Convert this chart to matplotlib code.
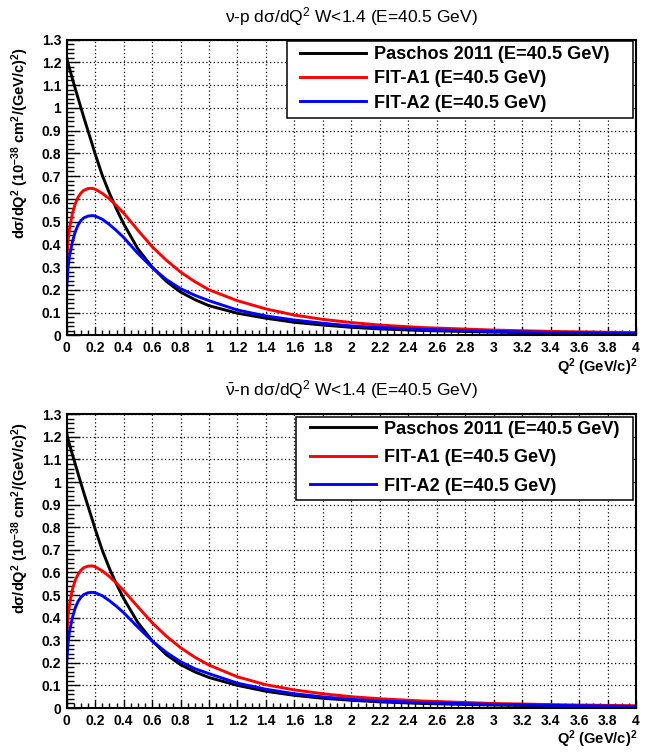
import matplotlib
matplotlib.use("Agg")
import matplotlib.pyplot as plt
from matplotlib.ticker import MultipleLocator, FuncFormatter
from matplotlib.patches import Rectangle

plt.rcParams['font.family'] = ['Liberation Sans', 'DejaVu Sans']
plt.rcParams['mathtext.fontset'] = 'custom'
plt.rcParams['mathtext.rm'] = 'Liberation Sans'
plt.rcParams['mathtext.it'] = 'Liberation Sans'
plt.rcParams['mathtext.bf'] = 'Liberation Sans:bold'

# ---------------- data ----------------
q2 = [0, 0.01, 0.02, 0.04, 0.06, 0.08, 0.10, 0.12, 0.15, 0.18, 0.20, 0.25, 0.30,
      0.35, 0.40, 0.50, 0.60, 0.70, 0.80, 0.90, 1.0, 1.2, 1.4, 1.6, 1.8, 2.0, 2.2,
      2.5, 3.0, 3.5, 4.0]

# nu-p panel
vp_paschos = [1.218, 1.195, 1.172, 1.128, 1.084, 1.042, 1.000, 0.958, 0.898, 0.838,
              0.797, 0.703, 0.625, 0.555, 0.490, 0.380, 0.300, 0.237, 0.190, 0.157,
              0.130, 0.097, 0.075, 0.057, 0.045, 0.035, 0.028, 0.021, 0.014, 0.009, 0.006]
vp_fitA1 = [0.330, 0.420, 0.470, 0.535, 0.578, 0.607, 0.625, 0.637, 0.645, 0.646,
            0.642, 0.624, 0.600, 0.570, 0.537, 0.462, 0.390, 0.330, 0.278, 0.236,
            0.200, 0.152, 0.116, 0.089, 0.070, 0.056, 0.045, 0.034, 0.023, 0.016, 0.012]
vp_fitA2 = [0.207, 0.300, 0.350, 0.410, 0.455, 0.485, 0.505, 0.516, 0.524, 0.526,
            0.524, 0.510, 0.487, 0.460, 0.430, 0.360, 0.298, 0.245, 0.205, 0.176,
            0.152, 0.111, 0.085, 0.067, 0.053, 0.041, 0.034, 0.026, 0.017, 0.012, 0.008]

# antinu-n panel
an_paschos = [1.215, 1.190, 1.165, 1.122, 1.080, 1.037, 0.995, 0.953, 0.893, 0.833,
              0.792, 0.698, 0.618, 0.548, 0.485, 0.378, 0.298, 0.236, 0.192, 0.160,
              0.135, 0.100, 0.074, 0.056, 0.043, 0.034, 0.027, 0.020, 0.013, 0.009, 0.006]
an_fitA1 = [0.325, 0.410, 0.460, 0.525, 0.565, 0.592, 0.610, 0.621, 0.628, 0.629,
            0.625, 0.607, 0.582, 0.552, 0.520, 0.448, 0.378, 0.318, 0.267, 0.225,
            0.190, 0.138, 0.103, 0.080, 0.063, 0.050, 0.041, 0.031, 0.020, 0.014, 0.010]
an_fitA2 = [0.200, 0.290, 0.340, 0.400, 0.443, 0.472, 0.490, 0.502, 0.510, 0.512,
            0.510, 0.497, 0.475, 0.450, 0.422, 0.358, 0.297, 0.246, 0.205, 0.174,
            0.152, 0.110, 0.083, 0.063, 0.049, 0.038, 0.031, 0.024, 0.016, 0.011, 0.007]

labels = ["Paschos 2011 (E=40.5 GeV)", "FIT-A1 (E=40.5 GeV)", "FIT-A2 (E=40.5 GeV)"]
colors = ["#000000", "#ff0000", "#0000ff"]
titles = [r"ν-p dσ/dQ$^{2}$ W<1.4 (E=40.5 GeV)",
          r"$\bar{\mathrm{\nu}}$-n dσ/dQ$^{2}$ W<1.4 (E=40.5 GeV)"]
ylabel = r"dσ/dQ$^{\mathbf{2}}$ (10$^{\mathbf{-38}}$ cm$^{\mathbf{2}}$/(GeV/c)$^{\mathbf{2}}$)"
xlabel = r"Q$^{\mathbf{2}}$ (GeV/c)$^{\mathbf{2}}$"

W, H = 652, 752
fig = plt.figure(figsize=(W / 100, H / 100), dpi=100)

panels = [
    dict(data=[vp_paschos, vp_fitA1, vp_fitA2], top=39.5, bot=335.3, title_y=17,
         xlab_y=367, leg=(287, 41, 633, 118), leg_start=300, labsp=0.40, ltop=46),
    dict(data=[an_paschos, an_fitA1, an_fitA2], top=414.3, bot=708, title_y=390,
         xlab_y=739, leg=(296, 417, 633, 500), leg_start=310, labsp=0.64, ltop=420.5),
]

x0px, x1px = 66.7, 636.0
fmt = FuncFormatter(lambda v, p: "%g" % round(v, 3))

for i, pn in enumerate(panels):
    ax = fig.add_axes([x0px / W, (H - pn['bot']) / H, (x1px - x0px) / W,
                       (pn['bot'] - pn['top']) / H])
    for ys, c, lab in zip(pn['data'], colors, labels):
        ax.plot(q2, ys, color=c, lw=2.1, label=lab, zorder=3, solid_joinstyle='round')
    ax.set_xlim(0, 4)
    ax.set_ylim(0, 1.3)
    ax.xaxis.set_major_locator(MultipleLocator(0.2))
    ax.xaxis.set_minor_locator(MultipleLocator(0.05))
    ax.yaxis.set_major_locator(MultipleLocator(0.1))
    ax.yaxis.set_minor_locator(MultipleLocator(0.02))
    ax.xaxis.set_major_formatter(fmt)
    ax.yaxis.set_major_formatter(fmt)
    ax.tick_params(axis='both', which='both', direction='in', top=False, right=False)
    ax.tick_params(axis='x', which='major', length=6, width=1.0, pad=4)
    ax.tick_params(axis='x', which='minor', length=3.5, width=1.0)
    ax.tick_params(axis='y', which='major', length=9, width=1.0, pad=4)
    ax.tick_params(axis='y', which='minor', length=5, width=1.0)
    for lab in ax.get_xticklabels() + ax.get_yticklabels():
        lab.set_fontweight('bold')
        lab.set_fontsize(10)
    ax.grid(True, which='major', color='black', linestyle=(0, (1, 2)), lw=0.9, zorder=1)
    ax.set_axisbelow(True)
    for s in ax.spines.values():
        s.set_linewidth(1.5)
        s.set_zorder(6)

    # legend frame
    lx0, ly0, lx1, ly1 = pn['leg']
    ax0 = (lx0 - x0px) / (x1px - x0px)
    ax1 = (lx1 - x0px) / (x1px - x0px)
    hgt = pn['bot'] - pn['top']
    ay_top = (pn['bot'] - ly0) / hgt
    ay_bot = (pn['bot'] - ly1) / hgt
    rect = Rectangle((ax0, ay_bot), ax1 - ax0, ay_top - ay_bot, transform=ax.transAxes,
                     facecolor='white', edgecolor='black', lw=1.1, zorder=4.5, clip_on=False)
    ax.add_patch(rect)
    leg = ax.legend(loc='upper left',
                    bbox_to_anchor=((pn['leg_start'] - x0px) / (x1px - x0px),
                                    (pn['bot'] - pn['ltop']) / hgt),
                    frameon=False, borderpad=0, borderaxespad=0, handlelength=3.6,
                    handletextpad=0.45, labelspacing=pn['labsp'],
                    prop={'family': 'Liberation Sans', 'weight': 'bold', 'size': 13.1})
    leg.set_zorder(7)
    for ln in leg.get_lines():
        ln.set_linewidth(2.1)

    fig.text((x0px + x1px) / 2 / W, (H - pn['title_y']) / H, titles[i], ha='center',
             va='center', fontsize=12.5)
    fig.text(637 / W, (H - pn['xlab_y']) / H, xlabel, ha='right', va='center',
             fontsize=10.5, fontweight='bold')
    fig.text(20 / W, (H - pn['top'] - 8) / H, ylabel, rotation=90, ha='center',
             va='top', fontsize=10.5, fontweight='bold')

fig.savefig("out.png", dpi=100, facecolor='white')
